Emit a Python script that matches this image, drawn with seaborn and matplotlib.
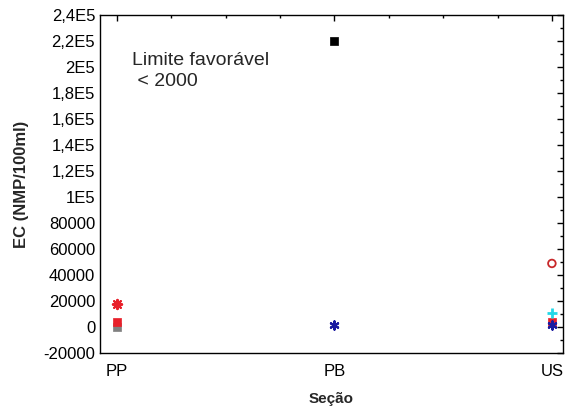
import numpy as np
import pandas as pd
import matplotlib
matplotlib.use("Agg")
import matplotlib.pyplot as plt
import seaborn as sns
from matplotlib.ticker import MultipleLocator

# ---- data ----
secao = ["PP", "PB", "US"]

gray_sq_x = ["PP"];          gray_sq_y = [500]
red_sq_x = ["PP", "US"];     red_sq_y = [4000, 4000]
red_ast_x = ["PP"];          red_ast_y = [17500]
black_sq_x = ["PB"];         black_sq_y = [220000]
blue_ast_x = ["PB", "US"];   blue_ast_y = [1500, 1500]
red_circ_x = ["US"];         red_circ_y = [49000]
cyan_plus_x = ["US"];        cyan_plus_y = [11000]

yticks = [-20000, 0, 20000, 40000, 60000, 80000, 100000, 120000, 140000,
          160000, 180000, 200000, 220000, 240000]
ytick_labels = ["-20000", "0", "20000", "40000", "60000", "80000", "1E5",
                "1,2E5", "1,4E5", "1,6E5", "1,8E5", "2E5", "2,2E5", "2,4E5"]

sns.set_theme(style="white")
plt.rcParams["font.family"] = ["Liberation Sans", "DejaVu Sans"]

fig = plt.figure(figsize=(5.85, 4.17), dpi=100)
ax = fig.add_axes([0.171, 0.153, 0.791, 0.811])
ax.xaxis.update_units(secao)

def add(xs, ys, marker, color, size, filled=True, lw=1.5):
    df = pd.DataFrame({"Seção": xs, "EC": ys})
    if filled:
        sns.scatterplot(data=df, x="Seção", y="EC", ax=ax, marker=marker,
                        color=color, s=size, edgecolor=color, linewidth=0.5, zorder=3)
    else:
        sns.scatterplot(data=df, x="Seção", y="EC", ax=ax, marker=marker,
                        color=color, s=size, linewidth=lw, zorder=3)

add(gray_sq_x, gray_sq_y, "s", "#808080", 40)
add(red_sq_x, red_sq_y, "s", "#e8202a", 28)
add(black_sq_x, black_sq_y, "s", "#000000", 40)
add(red_ast_x, red_ast_y, (8, 2, 0), "#e8202a", 45, filled=False, lw=1.5)
add(blue_ast_x, blue_ast_y, (6, 2, 0), "#1a1aa0", 35, filled=False, lw=1.6)
add(cyan_plus_x, cyan_plus_y, "+", "#22d8e8", 45, filled=False, lw=2.0)
ax.scatter(red_circ_x, red_circ_y, marker="o", s=30, facecolors="none",
           edgecolors="#c8282a", linewidths=1.3, zorder=3)

ax.set_xlim(-0.078, 2.05)
ax.set_ylim(-20000, 240000)
ax.set_yticks(yticks)
ax.set_yticklabels(ytick_labels)
ax.yaxis.set_minor_locator(MultipleLocator(10000))
ax.xaxis.set_minor_locator(MultipleLocator(0.25))

ax.tick_params(axis="both", which="both", direction="in", top=True, right=True,
               labelsize=12, colors="black", length=4, width=1)
ax.tick_params(axis="both", which="minor", length=2.5)
ax.tick_params(axis="x", which="major", pad=8)
for sp in ax.spines.values():
    sp.set_color("black")
    sp.set_linewidth(1)

ax.set_xlabel("Seção", fontsize=11, fontweight="bold", labelpad=9)
ax.set_ylabel("EC (NMP/100ml)", fontsize=12, fontweight="bold", labelpad=10)

ax.text(0.07, 0.89, "Limite favorável\n < 2000", transform=ax.transAxes,
        fontsize=14, va="top", ha="left", linespacing=1.3)

fig.savefig("out.png", dpi=100)
